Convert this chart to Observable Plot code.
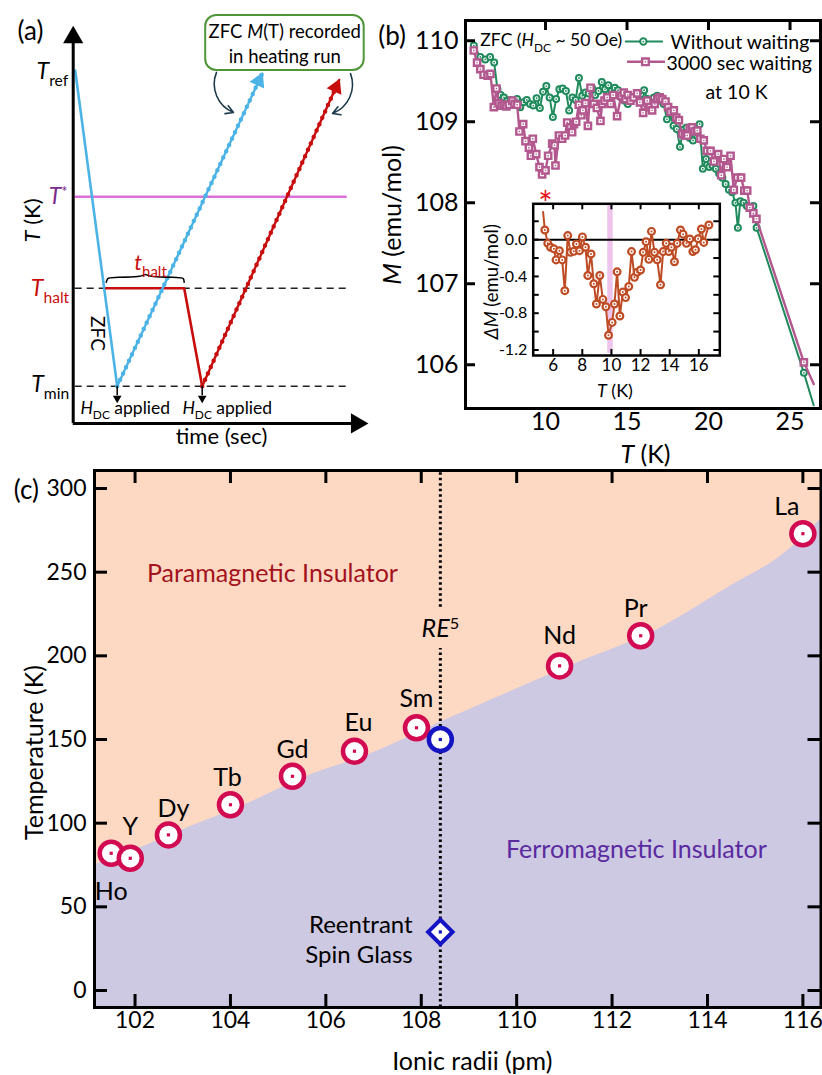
<!DOCTYPE html>
<html><head><meta charset="utf-8">
<script src="https://cdn.jsdelivr.net/npm/d3@7"></script>
<script src="https://cdn.jsdelivr.net/npm/@observablehq/plot@0.6"></script>
<style>
body{margin:0;background:#fff;}
#root{position:relative;width:822px;height:1075px;overflow:hidden;}
</style></head><body><div id="root"></div>
<script>
// ================= DATA =================
// Panel (a): schematic protocol (arbitrary time / temperature units)
const levelTemps = [10, 6, 3.1, 0];            // Tref, T*, Thalt, Tmin
const zfcCoolTime = [0.2, 4.4],  zfcCoolTemp = [10, 0];
const zfcHeatTime = [4.4, 18.9], zfcHeatTemp = [0, 9.9];
const haltCoolTime = [3.3, 11.1, 12.9], haltCoolTemp = [3.1, 3.1, 0];
const haltHeatTime = [12.9, 26.6], haltHeatTemp = [0, 9.7];
const braceTime = [3.3, 3.45, 3.7, 6.95, 7.23, 7.5, 10.8, 11.05, 11.1];
const braceTemp = [3.29, 3.43, 3.45, 3.45, 3.58, 3.45, 3.45, 3.43, 3.29];

// Panel (b): ZFC M(T)
const greenT = [5.6,6.0,6.3,6.6,6.85,7.05,7.25,7.45,7.65,7.85,8.05,8.25,8.45,8.65,8.85,9.05,9.25,9.45,9.65,9.85,10.05,10.25,10.45,10.65,10.85,11.05,11.25,11.45,11.65,11.85,12.05,12.25,12.45,12.65,12.85,13.05,13.25,13.45,13.65,13.85,14.05,14.25,14.45,14.65,14.85,15.05,15.25,15.45,15.65,15.85,16.05,16.25,16.45,16.65,16.85,17.05,17.25,17.45,17.65,17.85,18.05,18.25,18.45,18.65,18.85,19.05,19.25,19.45,19.65,19.85,20.05,20.25,20.45,20.65,20.85,21.05,21.25,21.45,21.65,21.8,21.95,22.15,22.35,22.55,22.75,22.95,25.85,26.45];
const greenM = [109.94,109.80,109.77,109.80,109.73,109.40,109.33,109.30,109.26,109.27,109.25,109.28,109.18,109.24,109.27,109.22,109.20,109.29,109.17,109.37,109.44,109.30,109.06,109.28,109.40,109.41,109.38,109.14,109.30,109.27,109.54,109.32,109.36,109.35,109.42,109.33,109.38,109.49,109.40,109.45,109.38,109.42,109.39,109.30,109.26,109.22,109.27,109.31,109.29,109.34,109.39,109.28,109.24,109.30,109.32,109.26,109.22,109.03,109.10,108.95,108.91,108.69,108.90,108.93,108.80,108.77,108.88,108.97,108.42,108.54,108.44,108.46,108.42,108.36,108.31,108.23,108.16,108.13,108.00,107.69,108.02,108.00,107.96,107.94,107.96,107.69,105.90,105.50];
const pinkT = [5.6,5.8,6.0,6.2,6.45,6.62,6.83,6.99,7.13,7.3,7.44,7.6,7.75,7.95,8.1,8.26,8.4,8.63,8.77,8.98,9.1,9.22,9.43,9.63,9.79,10.0,10.16,10.41,10.55,10.61,10.82,11.02,11.2,11.33,11.53,11.63,11.75,11.88,12.04,12.2,12.29,12.45,12.6,12.76,12.96,13.15,13.37,13.47,13.62,13.78,13.99,14.15,14.39,14.64,14.8,14.91,15.05,15.21,15.4,15.62,15.79,15.99,16.24,16.4,16.54,16.7,16.85,17.0,17.16,17.36,17.52,17.67,17.87,18.02,18.18,18.38,18.55,18.69,18.85,19.0,19.15,19.31,19.5,19.71,19.9,20.12,20.33,20.59,20.78,20.94,21.14,21.35,21.55,21.76,22.0,22.2,22.37,22.53,22.75,22.94,25.85,26.46];
const pinkM = [109.88,109.73,109.65,109.58,109.57,109.59,109.18,109.41,109.23,109.20,109.21,109.19,109.21,109.26,109.22,109.21,108.88,108.97,108.76,108.68,108.58,108.79,108.60,108.44,108.35,108.40,108.58,108.73,108.71,108.46,108.83,108.79,108.83,108.99,108.93,108.87,108.97,109.00,109.21,109.08,109.14,109.23,108.95,109.42,109.22,109.17,109.01,109.22,109.26,109.30,109.22,109.33,109.07,109.32,109.36,109.28,109.33,109.26,109.30,109.35,109.24,109.11,109.26,109.18,109.14,109.22,109.28,109.30,109.28,109.25,109.18,109.12,109.14,109.05,109.02,108.85,108.83,108.83,108.92,108.93,108.88,108.89,108.79,108.77,108.64,108.64,108.51,108.60,108.34,108.54,108.44,108.58,108.16,108.31,108.31,108.15,108.15,107.94,107.87,107.80,106.03,105.76];
const bXTicks = [10, 15, 20, 25];
const bYTicks = [106, 107, 108, 109, 110];

// Inset: difference ΔM
const dmT = [5.31,5.43,5.63,5.82,6.05,6.2,6.43,6.62,6.8,7.0,7.19,7.42,7.6,7.81,8.01,8.22,8.38,8.6,8.79,8.97,9.2,9.41,9.62,9.8,10.05,10.21,10.39,10.58,10.78,10.97,11.19,11.38,11.58,11.77,12.0,12.18,12.38,12.57,12.75,12.96,13.14,13.37,13.55,13.76,13.94,14.12,14.33,14.51,14.74,14.92,15.15,15.38,15.59,15.77,15.95,16.18,16.34,16.69];
const dmV = [0.30,0.105,-0.04,-0.083,-0.10,-0.22,-0.12,-0.22,-0.555,0.044,-0.138,-0.127,-0.047,-0.12,0.03,-0.083,-0.39,-0.156,-0.48,-0.70,-0.39,-0.65,-0.73,-1.04,-0.90,-0.70,-0.35,-0.83,-0.57,-0.63,-0.51,-0.13,-0.41,-0.355,-0.33,-0.138,-0.022,-0.214,0.09,-0.138,-0.218,-0.49,-0.13,-0.04,-0.13,-0.083,-0.24,-0.04,0.105,0.06,-0.04,0.007,-0.13,-0.11,0.01,0.116,-0.03,0.16];
const waitBand = [9.75, 10.12];
const insetXTicks = [6, 8, 10, 12, 14, 16];
const insetYTicks = [0.2, 0, -0.2, -0.4, -0.6, -0.8, -1.0, -1.2];
const insetYLabels = [0, -0.4, -0.8, -1.2];

// Panel (c): phase diagram
const elemName = ["Ho","Y","Dy","Tb","Gd","Eu","Sm","Nd","Pr","La"];
const elemRadius = [101.5,101.9,102.7,104.0,105.3,106.6,107.9,110.9,112.6,116.0];
const elemTc = [82,79,93,111,128,143,157,194,212,273];
const reRadius = 108.4, reTc = 150, reTsg = 35;
const bndRadius = [101.15,102,103,104.3,105.6,106.9,108.46,111.2,112.9,114.5,115.6,116.38];
const bndTemp = [75,84,96,111,128,141,161,195,215,242,261,282];
const cXTicks = [102,104,106,108,110,112,114,116];
const cYTicks = [0,50,100,150,200,250,300];

// ================= HELPERS =================
const FONT = "Lato, 'Open Sans', sans-serif";
function baseStyle(fs){ return {background:"none", overflow:"visible", fontFamily:FONT, fontSize:fs+"px", color:"black", position:"absolute"}; }
function ticksY(vals, len, sw, plotW, sides){
  return sides.map(s => Plot.tickY(vals, {y:d=>d, stroke:"black", strokeWidth:sw, [s==="left"?"insetRight":"insetLeft"]: plotW-len}));
}
function ticksX(vals, len, sw, plotH, sides){
  return sides.map(s => Plot.tickX(vals, {x:d=>d, stroke:"black", strokeWidth:sw, [s==="bottom"?"insetTop":"insetBottom"]: plotH-len}));
}
function richify(svg){
  d3.select(svg).selectAll("text").each(function(){
    const t = this.textContent;
    if (!t.includes("<")) return;
    const fs = parseFloat(getComputedStyle(this).fontSize);
    const parts = t.split(/(<i>.*?<\/i>|<sub>.*?<\/sub>|<sup>.*?<\/sup>)/).filter(s=>s);
    this.textContent = "";
    let shift = 0;
    for (const p of parts){
      const ts = document.createElementNS("http://www.w3.org/2000/svg","tspan");
      let m, target = 0, size = null, italic = false, txt = p;
      if ((m = p.match(/^<i>(.*)<\/i>$/))) { txt = m[1]; italic = true; }
      else if ((m = p.match(/^<sub>(.*)<\/sub>$/))) { txt = m[1]; target = 0.3*fs; size = 0.68*fs; }
      else if ((m = p.match(/^<sup>(.*)<\/sup>$/))) { txt = m[1]; target = -0.32*fs; size = 0.65*fs; }
      ts.textContent = txt;
      if (italic) ts.setAttribute("font-style","italic");
      if (size) ts.setAttribute("font-size", size);
      const dy = target - shift;
      if (dy) ts.setAttribute("dy", dy);
      shift = target;
      this.appendChild(ts);
    }
  });
}
const root = document.getElementById("root");
function place(svg, left, top){ svg.style.left = left+"px"; svg.style.top = top+"px"; root.appendChild(svg); richify(svg); }

// ================= PANEL (a) =================
const BLUE = "#4cb3e6", RED = "#c80d0d", ORCHID = "#dc70d8";
const aPxT = 10, aPxY = 31.57;
function headAngle(t, T){ return Math.atan2((t[1]-t[0])*aPxT, (T[1]-T[0])*aPxY)*180/Math.PI; }
function headPos(t, T, back){ const L = Math.hypot((t[1]-t[0])*aPxT, (T[1]-T[0])*aPxY); const f = back/L; return [t[1]-(t[1]-t[0])*f, T[1]-(T[1]-T[0])*f]; }
const bh = headPos(zfcHeatTime, zfcHeatTemp, 8), rh = headPos(haltHeatTime, haltHeatTemp, 8);
const aPlot = Plot.plot({
  width:370, height:450, marginLeft:0, marginRight:0, marginTop:0, marginBottom:0,
  x:{domain:[-7.27, 29.73], axis:null}, y:{domain:[-2.037, 12.217], axis:null},
  style: baseStyle(21),
  marks:[
    Plot.ruleY([levelTemps[1]], {x1:0.2, x2:27.4, stroke:ORCHID, strokeWidth:2.5}),
    Plot.ruleY([levelTemps[2], levelTemps[3]], {x1:0.2, x2:27.8, stroke:"#222", strokeWidth:1.6, strokeDasharray:"7,5"}),
    Plot.line(zfcCoolTemp, {x:zfcCoolTime, y:zfcCoolTemp, stroke:BLUE, strokeWidth:2.6}),
    Plot.line(haltCoolTemp, {x:haltCoolTime, y:haltCoolTemp, stroke:RED, strokeWidth:2.6}),
    Plot.line(zfcHeatTemp, {x:zfcHeatTime, y:zfcHeatTemp, stroke:BLUE, strokeWidth:2.4}),
    Plot.line(zfcHeatTemp, {x:zfcHeatTime, y:zfcHeatTemp, stroke:BLUE, strokeWidth:4.5, strokeDasharray:"0,7", strokeLinecap:"round"}),
    Plot.line(haltHeatTemp, {x:haltHeatTime, y:haltHeatTemp, stroke:RED, strokeWidth:2.4}),
    Plot.line(haltHeatTemp, {x:haltHeatTime, y:haltHeatTemp, stroke:RED, strokeWidth:4.5, strokeDasharray:"0,7", strokeLinecap:"round"}),
    Plot.dot([0], {x:[bh[0]], y:[bh[1]], symbol:"triangle", r:6, fill:BLUE, rotate:headAngle(zfcHeatTime, zfcHeatTemp)}),
    Plot.dot([0], {x:[rh[0]], y:[rh[1]], symbol:"triangle", r:6, fill:RED, rotate:headAngle(haltHeatTime, haltHeatTemp)}),
    // brace
    Plot.line(braceTemp, {x:braceTime, y:braceTemp, stroke:"black", strokeWidth:1.5, curve:"basis"}),
    // axes
    Plot.ruleX([0], {y1:-1.18, y2:11.0, stroke:"black", strokeWidth:3}),
    Plot.ruleY([-1.18], {x1:0, x2:28.0, stroke:"black", strokeWidth:3}),
    Plot.dot([0], {x:[0], y:[11.05], symbol:"triangle", r:7.5, fill:"black"}),
    Plot.dot([0], {x:[28.36], y:[-1.18], symbol:"triangle", r:7.5, fill:"black", rotate:90}),
    // H_DC arrows
    Plot.ruleX([zfcHeatTime[0], haltHeatTime[0]], {y1:0, y2:-0.3, stroke:"black", strokeWidth:1.5}),
    Plot.dot([zfcHeatTime[0], haltHeatTime[0]], {x:d=>d, y:-0.38, symbol:"triangle", r:3.2, fill:"black", rotate:180}),
    // labels
    Plot.text(["<i>T</i><sub>ref</sub>"], {x:0, y:levelTemps[0]-0.05, dx:-5, textAnchor:"end", fontSize:23}),
    Plot.text(["<i>T</i><sup>*</sup>"], {x:0, y:levelTemps[1], dx:-15, textAnchor:"middle", fontSize:23, fill:"#7a2a8c"}),
    Plot.text(["<i>T</i><sub>halt</sub>"], {x:0, y:levelTemps[2], dx:-4, textAnchor:"end", fontSize:23, fill:RED}),
    Plot.text(["<i>T</i><sub>min</sub>"], {x:0, y:levelTemps[3]+0.06, dx:-4, textAnchor:"end", fontSize:23}),
    Plot.text(["<i>t</i><sub>halt</sub>"], {x:7.73, y:3.89, fontSize:22, fill:RED}),
    Plot.text(["ZFC"], {x:2.43, y:1.67, rotate:90, fontSize:19}),
    Plot.text(["<i>H</i><sub>DC</sub> applied", "<i>H</i><sub>DC</sub> applied"], {x:[5.2, 15.4], y:-0.71, fontSize:17.5}),
    Plot.text(["time (sec)"], {x:14.83, y:-1.62, fontSize:22}),
    Plot.text(["<i>T</i> (K)"], {x:-4.07, y:5.25, rotate:-90, fontSize:22}),
    Plot.text(["(a)"], {x:-4.27, y:11.24, fontSize:26}),
    // box & curved arrows
    Plot.rect([0], {x1:13.25, x2:29.1, y1:10.0, y2:11.74, rx:11, stroke:"#4f9638", strokeWidth:2, fill:"white"}),
    Plot.text(["ZFC <i>M</i>(T) recorded"], {x:21.15, y:11.21, fontSize:18.5}),
    Plot.text(["in heating run"], {x:21.15, y:10.42, fontSize:18.5}),
    Plot.arrow([0], {x1:14.33, y1:9.94, x2:16.03, y2:8.67, bend:-45, stroke:"#1d3a4c", strokeWidth:1.6, headLength:8}),
    Plot.arrow([0], {x1:27.73, y1:9.9, x2:25.93, y2:8.64, bend:45, stroke:"#1d3a4c", strokeWidth:1.6, headLength:8})
  ]
});
place(aPlot, 0, 0);

// ================= PANEL (b) =================
const GREEN = "#1f8b5c", PINK = "#b3588f";
const bPW = 452-95-2, bPH = 470-20-62;
const bPlot = Plot.plot({
  width:452, height:470, marginLeft:95, marginRight:2, marginTop:20, marginBottom:62,
  x:{domain:[5.09, 26.87], axis:null}, y:{domain:[105.46, 110.25], axis:null},
  style: baseStyle(25),
  marks:[
    Plot.line(greenM, {x:greenT, y:greenM, stroke:GREEN, strokeWidth:2}),
    Plot.dot(greenM.slice(0,-1), {x:greenT.slice(0,-1), y:greenM.slice(0,-1), r:3, stroke:GREEN, strokeWidth:2, fill:"white"}),
    Plot.dot(greenM.slice(0,-1), {x:greenT.slice(0,-1), y:greenM.slice(0,-1), r:0.9, fill:GREEN}),
    Plot.line(pinkM, {x:pinkT, y:pinkM, stroke:PINK, strokeWidth:2.4}),
    Plot.dot(pinkM.slice(0,-1), {x:pinkT.slice(0,-1), y:pinkM.slice(0,-1), symbol:"square2", r:4, stroke:PINK, strokeWidth:2.4, fill:"white"}),
    Plot.dot(pinkM.slice(0,-1), {x:pinkT.slice(0,-1), y:pinkM.slice(0,-1), symbol:"square", r:0.8, fill:PINK}),
    // legend
    Plot.ruleY([109.99], {x1:14.9, x2:17.23, stroke:GREEN, strokeWidth:2}),
    Plot.dot([0], {x:[16.0], y:[109.99], r:3.2, stroke:GREEN, strokeWidth:2, fill:"white"}),
    Plot.dot([0], {x:[16.0], y:[109.99], r:0.9, fill:GREEN}),
    Plot.ruleY([109.74], {x1:15.03, x2:17.36, stroke:PINK, strokeWidth:2.4}),
    Plot.dot([0], {x:[16.13], y:[109.74], symbol:"square2", r:4.2, stroke:PINK, strokeWidth:2.4, fill:"white"}),
    Plot.dot([0], {x:[16.13], y:[109.74], symbol:"square", r:0.8, fill:PINK}),
    Plot.text(["Without waiting"], {x:17.67, y:109.975, textAnchor:"start", fontSize:19.5}),
    Plot.text(["3000 sec waiting"], {x:17.42, y:109.716, textAnchor:"start", fontSize:19.5}),
    Plot.text(["at 10 K"], {x:21.72, y:109.36, fontSize:19.5}),
    Plot.text(["ZFC (<i>H</i><sub>DC</sub> ~ 50 Oe)"], {x:6.0, y:110.0, textAnchor:"start", fontSize:17.5}),
    Plot.text(["*"], {x:[10.0], y:[107.97], fill:"#e8141c", fontSize:34}),
    ...ticksY(bYTicks, 10, 3, bPW, ["left","right"]),
    ...ticksX(bXTicks, 10, 3, bPH, ["top"]),
    Plot.frame({stroke:"black", strokeWidth:3}),
    Plot.text(bYTicks, {y:d=>d, frameAnchor:"left", dx:-7, textAnchor:"end", text:d=>String(d)}),
    Plot.text(bXTicks, {x:d=>d, frameAnchor:"bottom", dy:21, text:d=>String(d)}),
    Plot.text(["<i>M</i> (emu/mol)"], {x:0.67, y:107.85, rotate:-90, fontSize:25}),
    Plot.text(["<i>T</i> (K)"], {x:16.13, y:104.88, fontSize:25}),
    Plot.text(["(b)"], {x:0.59, y:110.05, fontSize:26})
  ]
});
place(bPlot, 370, 0);

// ================= INSET =================
const INS = "#be4b23";
const iPW = 260-62.7-10.7, iPH = 210-13.3-45;
const iPlot = Plot.plot({
  width:260, height:210, marginLeft:62.7, marginRight:10.7, marginTop:13.3, marginBottom:45,
  x:{domain:[4.63, 17.44], axis:null}, y:{domain:[-1.26, 0.39], axis:null},
  style: baseStyle(16),
  marks:[
    Plot.frame({fill:"white"}),
    Plot.rect([0], {x1:waitBand[0], x2:waitBand[1], y1:-1.237, y2:0.37, fill:"#eec4ec"}),
    Plot.ruleY([0], {stroke:"black", strokeWidth:2}),
    Plot.line(dmV, {x:dmT, y:dmV, stroke:INS, strokeWidth:2}),
    Plot.dot(dmV.slice(1), {x:dmT.slice(1), y:dmV.slice(1), r:3.4, stroke:INS, strokeWidth:2.2, fill:"white"}),
    Plot.dot(dmV.slice(1), {x:dmT.slice(1), y:dmV.slice(1), r:1.0, fill:INS}),
    ...ticksY(insetYTicks, 6, 2, iPW, ["left","right"]),
    ...ticksX(insetXTicks, 6, 2, iPH, ["top","bottom"]),
    Plot.frame({stroke:"black", strokeWidth:2.5}),
    Plot.text(insetYLabels, {y:d=>d, frameAnchor:"left", dx:-6, textAnchor:"end", text:d=>d.toFixed(1)}),
    Plot.text(insetXTicks, {x:d=>d, frameAnchor:"bottom", dy:15, text:d=>String(d), fontSize:17}),
    Plot.text(["<i>ΔM</i> (emu/mol)"], {x:1.82, y:-0.457, rotate:-90, fontSize:18.5}),
    Plot.text(["<i>T</i> (K)"], {x:10.24, y:-1.65, fontSize:18}),
  ]
});
place(iPlot, 470, 190);

// ================= PANEL (c) =================
const PEACH = "#fdd9c3", LAV = "#cdc9e2", CRIMSON = "#d20a52", DBLUE = "#1414c4";
const cPW = 822-94-1.5, cPH = 615-10-68;
const labelShift = {Ho:[0,39], Y:[0,-31], Dy:[5,-26], Tb:[-3,-27], Gd:[0,-26], Eu:[4,-28], Sm:[0,-29], Nd:[0,-30], Pr:[-5,-27], La:[-16,-27]};
const cPlot = Plot.plot({
  width:822, height:615, marginLeft:94, marginRight:1.5, marginTop:10, marginBottom:68,
  x:{domain:[101.15, 116.38], axis:null}, y:{domain:[-10.16, 310.76], axis:null},
  style: baseStyle(23),
  marks:[
    Plot.frame({fill:PEACH}),
    Plot.areaY(bndTemp, {x:bndRadius, y1:-10.16, y2:bndTemp, fill:LAV, curve:"monotone-x"}),
    Plot.ruleX([reRadius], {y1:229, y2:310.76, stroke:"black", strokeWidth:3, strokeDasharray:"2.5,3"}),
    Plot.ruleX([reRadius], {y1:-10.16, y2:204.4, stroke:"black", strokeWidth:3, strokeDasharray:"2.5,3"}),
    Plot.text(["Paramagnetic Insulator"], {x:104.88, y:249.2, fill:"#a3121c", fontSize:25}),
    Plot.text(["Ferromagnetic Insulator"], {x:112.51, y:83.7, fill:"#5a2aa0", fontSize:25}),
    Plot.text(["<i>RE</i><sup>5</sup>"], {x:reRadius, y:216.3, fontSize:25}),
    Plot.text(["Reentrant\nSpin Glass"], {x:107.82, y:30.9, textAnchor:"end", lineHeight:1.25, fontSize:24}),
    Plot.dot(elemTc, {x:elemRadius, y:elemTc, r:11.5, stroke:CRIMSON, strokeWidth:4.5, fill:"white"}),
    Plot.dot(elemTc, {x:elemRadius, y:elemTc, r:1.8, symbol:"square", fill:CRIMSON}),
    Plot.dot([reTc], {x:[reRadius], y:[reTc], r:11.5, stroke:DBLUE, strokeWidth:4.5, fill:"white"}),
    Plot.dot([reTc], {x:[reRadius], y:[reTc], r:1.8, symbol:"square", fill:DBLUE}),
    Plot.dot([reTsg], {x:[reRadius], y:[reTsg], r:11, symbol:"diamond2", stroke:DBLUE, strokeWidth:4, fill:"white"}),
    Plot.dot([reTsg], {x:[reRadius], y:[reTsg], r:1.8, symbol:"square", fill:DBLUE}),
    ...elemName.map((n,i) => Plot.text([n], {x:[elemRadius[i]], y:[elemTc[i]], dx:labelShift[n][0], dy:labelShift[n][1], fontSize:25})),
    ...ticksY(cYTicks, 13, 3, cPW, ["left","right"]),
    ...ticksX(cXTicks, 13, 3, cPH, ["top","bottom"]),
    Plot.frame({stroke:"black", strokeWidth:3}),
    Plot.text(cYTicks, {y:d=>d, frameAnchor:"left", dx:-8, textAnchor:"end", text:d=>String(d)}),
    Plot.text(cXTicks, {x:d=>d, frameAnchor:"bottom", dy:20, text:d=>String(d)}),
    Plot.text(["Temperature (K)"], {x:99.91, y:142.2, rotate:-90, fontSize:25}),
    Plot.text(["Ionic radii (pm)"], {x:109.07, y:-42.8, fontSize:25}),
    Plot.text(["(c)"], {x:99.72, y:298.8, fontSize:26})
  ]
});
place(cPlot, 0, 460);
</script></body></html>
